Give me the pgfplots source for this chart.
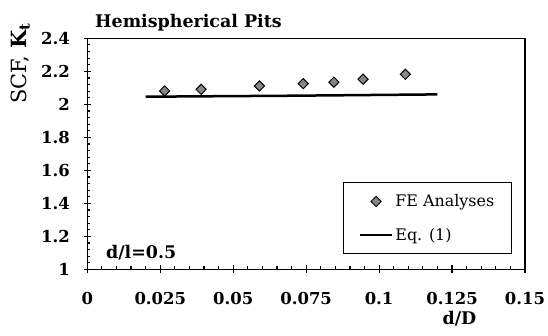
\documentclass[border=0pt]{standalone}
\usepackage{pgfplots}
\pgfplotsset{compat=1.18}
\usepackage{fontspec}
\setmainfont{DejaVu Serif}
\begin{document}
\begin{tikzpicture}
\begin{axis}[
  at={(0,0)}, anchor=south west,
  scale only axis, width=437.7bp, height=231bp,
  xmin=0, xmax=0.15, ymin=1, ymax=2.4,
  xtick={0,0.025,0.05,0.075,0.1,0.125,0.15},
  xticklabels={0,0.025,0.05,0.075,0.1,0.125,0.15},
  ytick={1,1.2,1.4,1.6,1.8,2,2.2,2.4},
  yticklabels={1,1.2,1.4,1.6,1.8,2,2.2,2.4},
  minor x tick num=4, minor y tick num=4,
  xtick pos=bottom, ytick pos=left,
  tick align=inside, major tick length=4bp, minor tick length=3bp,
  extra x ticks={0,0.025,0.05,0.075,0.1,0.125,0.15}, extra x tick labels={},
  extra y ticks={1,1.2,1.4,1.6,1.8,2,2.2,2.4}, extra y tick labels={},
  extra tick style={tick align=center, major tick length=7bp},
  axis line style={line width=1.5bp},
  tick style={line width=1.2bp, black},
  tick label style={font=\fontsize{16.5}{18}\selectfont\bfseries},
  xticklabel style={yshift=-19bp},
  yticklabel style={xshift=-14bp},
  legend image code/.code={\draw[mark repeat=2,mark phase=2,#1] plot coordinates {(0bp,0bp)(16bp,0bp)(32bp,0bp)};},
  legend style={at={(rel axis cs:0.9696,0.065)}, anchor=south east,
    draw=black, line width=0.8bp, font=\fontsize{16}{18}\selectfont,
    inner xsep=15bp, inner ysep=10bp, row sep=16bp, cells={anchor=west}},
]
\addplot[only marks, mark=square*, mark size=3.6bp, mark options={rotate=45, fill=gray!95, draw=black, line width=1bp}]
  coordinates {(0.0265,2.081)(0.039,2.091)(0.059,2.111)(0.074,2.125)(0.0845,2.134)(0.0945,2.152)(0.109,2.182)};
\addlegendentry{FE Analyses}
\addplot[black, line width=2.5bp, no marks]
  coordinates {(0.02,2.046)(0.045,2.049)(0.07,2.052)(0.095,2.056)(0.12,2.060)};
\addlegendentry{Eq. (1)}
\end{axis}
\node[anchor=base west, font=\fontsize{17.5}{20}\selectfont\bfseries, inner sep=0pt] at (7.7bp,242bp) {Hemispherical Pits};
\node[rotate=90, font=\fontsize{21}{24}\selectfont, inner sep=0pt] at (-67bp,206bp) {SCF, \textbf{K}$_{\mathbf{t}}$};
\node[anchor=base west, font=\fontsize{17.5}{20}\selectfont\bfseries, inner sep=0pt] at (18.7bp,11.3bp) {d/l=0.5};
\node[font=\fontsize{17.5}{20}\selectfont\bfseries, inner sep=0pt] at (372.2bp,-49.2bp) {d/D};
\pgfresetboundingbox
\useasboundingbox (-87.3bp,-66.7bp) rectangle (460.7bp,269.3bp);
\end{tikzpicture}
\end{document}
